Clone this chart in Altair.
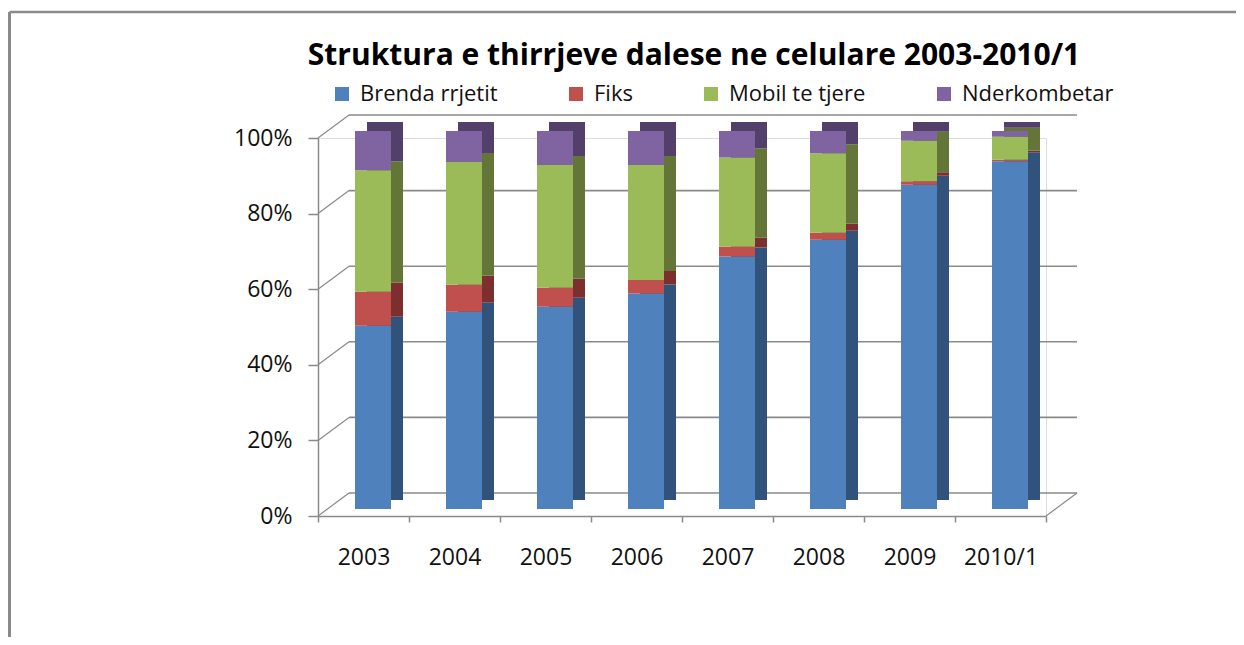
import altair as alt
import pandas as pd

years = ["2003", "2004", "2005", "2006", "2007", "2008", "2009", "2010/1"]
series_names = ["Brenda rrjetit", "Fiks", "Mobil te tjere", "Nderkombetar"]
brenda = [48.5, 52.2, 53.5, 57.0, 66.8, 71.2, 85.8, 92.0]
fiks = [9.0, 7.1, 5.0, 3.6, 2.6, 1.9, 0.9, 0.4]
mobil = [32.1, 32.5, 32.5, 30.4, 23.6, 21.0, 10.7, 6.1]
nderkombetar = [10.4, 8.2, 9.0, 9.0, 7.0, 5.9, 2.6, 1.5]
front_colors = ["#4F81BD", "#C0504D", "#9BBB59", "#8064A2"]
side_colors = ["#31527A", "#7C2F2E", "#637637", "#52406A"]
tick_values = [0, 0.2, 0.4, 0.6, 0.8, 1.0]

rows = []
for k, (name, vals) in enumerate(zip(series_names, [brenda, fiks, mobil, nderkombetar])):
    for yr, v in zip(years, vals):
        rows.append({"year": yr, "series": name, "value": v, "ord": k,
                     "dark": side_colors[k]})
df = pd.DataFrame(rows)
grid_df = pd.DataFrame({"g": tick_values})
corner_df = pd.DataFrame({"g": [0.0]})
frame_df = pd.DataFrame({"a": [0]})

GRAY = "#8a8a8a"
FONT = "Open Sans"

x_enc = alt.X("year:N", sort=years,
              scale=alt.Scale(paddingInner=0, paddingOuter=0),
              axis=alt.Axis(title=None, labelFont=FONT, labelFontSize=23,
                            labelColor="#111111", labelAngle=0,
                            tickBand="extent", tickSize=6, tickColor=GRAY,
                            tickWidth=1.5, domainColor=GRAY, domainWidth=1.5,
                            labelPadding=24, grid=False))

y_axis = alt.Axis(title=None, values=tick_values, format=".0%",
                  labelFont=FONT, labelFontSize=23, labelColor="#111111",
                  tickSize=10, tickColor=GRAY, tickWidth=1.5,
                  domainColor=GRAY, domainWidth=1.5, labelPadding=16,
                  grid=False)

y_scale = alt.Scale(domain=[0, 1], nice=False)

frame_top = alt.Chart(frame_df).mark_rule(
    color=GRAY, strokeWidth=2.5
).encode(x=alt.value(-308.5), x2=alt.value(918), y=alt.value(-126))

frame_left = alt.Chart(frame_df).mark_rule(
    color=GRAY, strokeWidth=3
).encode(x=alt.value(-308.5), y=alt.value(-126), y2=alt.value(700))

grid = alt.Chart(grid_df).mark_rule(
    color=GRAY, strokeWidth=1.6, yOffset=-23
).encode(x=alt.value(31), x2=alt.value(759),
         y=alt.Y("g:Q", scale=y_scale, axis=y_axis))

diag_left = alt.Chart(grid_df).mark_rule(
    color=GRAY, strokeWidth=1.2, y2Offset=-23
).encode(x=alt.value(0), x2=alt.value(31),
         y=alt.Y("g:Q", scale=y_scale, axis=y_axis), y2="g:Q")

diag_right = alt.Chart(corner_df).mark_rule(
    color=GRAY, strokeWidth=1.2, y2Offset=-23
).encode(x=alt.value(728), x2=alt.value(759),
         y=alt.Y("g:Q", scale=y_scale, axis=y_axis), y2="g:Q")

side = alt.Chart(df).mark_bar(
    width=36, xOffset=21.5, yOffset=-16, y2Offset=-16
).encode(
    x=x_enc,
    y=alt.Y("value:Q", stack="normalize", scale=y_scale, axis=y_axis),
    color=alt.Color("dark:N", scale=None),
    order=alt.Order("ord:Q", sort="ascending"),
)

front = alt.Chart(df).mark_bar(
    width=36, xOffset=9.5, yOffset=-7, y2Offset=-7
).encode(
    x=x_enc,
    y=alt.Y("value:Q", stack="normalize", scale=y_scale, axis=y_axis),
    color=alt.Color("series:N", sort=series_names,
                    scale=alt.Scale(domain=series_names, range=front_colors),
                    legend=alt.Legend(orient="none", legendX=13, legendY=-55,
                                      direction="horizontal", columns=4,
                                      title=None, symbolType="square",
                                      symbolSize=196, symbolStrokeWidth=0,
                                      labelFont=FONT, labelFontSize=22,
                                      labelColor="#111111", labelOffset=7,
                                      columnPadding=67)),
    order=alt.Order("ord:Q", sort="ascending"),
)

chart = alt.layer(frame_top, frame_left, grid, diag_left, diag_right, side, front).properties(
    width=728, height=378,
    autosize=alt.AutoSizeParams(type="none"),
    padding={"left": 310, "top": 130, "right": 190, "bottom": 121},
    title=alt.TitleParams(
        "Struktura e thirrjeve dalese ne celulare 2003-2010/1",
        font=FONT, fontSize=30, fontWeight="bold", color="#000000",
        anchor="middle", dx=12, baseline="alphabetic", offset=-84),
).configure_view(stroke=None).configure(background="white")

chart.save("out.html", embed_options={"renderer": "svg", "actions": False})
